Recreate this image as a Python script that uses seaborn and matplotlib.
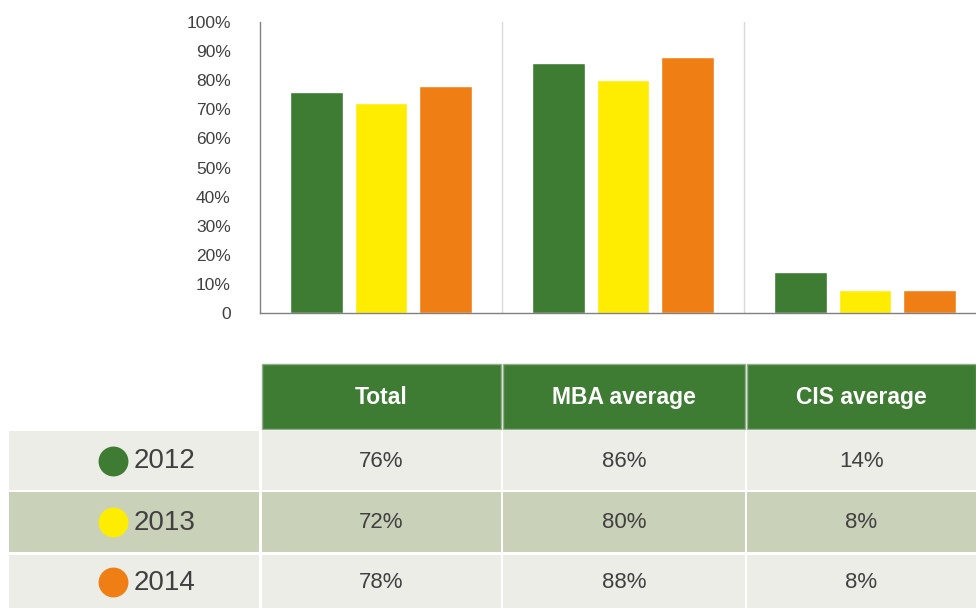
import matplotlib
matplotlib.use("Agg")
import matplotlib.pyplot as plt
from matplotlib.patches import Rectangle
import seaborn as sns
import pandas as pd

# Data
groups = ["Total", "MBA average", "CIS average"]
years = ["2012", "2013", "2014"]
values_2012 = [76, 86, 14]
values_2013 = [72, 80, 8]
values_2014 = [78, 88, 8]
y_ticks = [0, 10, 20, 30, 40, 50, 60, 70, 80, 90, 100]
y_tick_labels = ["0", "10%", "20%", "30%", "40%", "50%", "60%", "70%", "80%", "90%", "100%"]

colors = {"2012": "#3E7B33", "2013": "#FFED00", "2014": "#EF7F14"}
text_col = "#404040"
header_green = "#3E7B33"
row_light = "#EDEDE8"
row_mid = "#C9D1B9"

series = {"2012": values_2012, "2013": values_2013, "2014": values_2014}
df = pd.DataFrame(
    [(g, y, series[y][i]) for y in years for i, g in enumerate(groups)],
    columns=["Group", "Year", "Value"],
)

sns.set_theme(style="white")
plt.rcParams["font.family"] = ["Liberation Sans", "DejaVu Sans"]

W, H = 976, 608
fig = plt.figure(figsize=(W / 100, H / 100), dpi=100)

# Bar chart area (pixel box: x 260..986, y 22..313); the right edge runs past the figure
ax = fig.add_axes([260 / W, (H - 313) / H, (986 - 260) / W, (313 - 22) / H])
sns.barplot(
    data=df, x="Group", y="Value", hue="Year", order=groups, hue_order=years,
    palette=colors, width=0.8, gap=0.19, saturation=1, legend=False, ax=ax,
)
ax.set_xlim(-0.5, 2.5)
ax.set_ylim(0, 100)
ax.set_yticks(y_ticks)
ax.set_yticklabels(y_tick_labels, color=text_col, fontsize=12.5)
ax.tick_params(axis="y", length=0, pad=21)
ax.set_xticks([])
ax.set_xlabel("")
ax.set_ylabel("")
for s in ["top", "right"]:
    ax.spines[s].set_visible(False)
for s in ["left", "bottom"]:
    ax.spines[s].set_color("#808080")
    ax.spines[s].set_linewidth(1.0)
for xv in [0.5, 1.5]:
    ax.axvline(xv, color="#D9D9D9", lw=1.0, zorder=0)

# Data table drawn in pixel coordinates
tab = fig.add_axes([0, 0, 1, 1])
tab.set_xlim(0, W)
tab.set_ylim(H, 0)
tab.axis("off")
tab.patch.set_visible(False)

col_x = [(262, 501), (503, 745), (747, 976)]
header_y = (364, 429)
row_y = [(431, 490), (492, 552), (555, 608)]
row_fill = [row_light, row_mid, row_light]

for (x0, x1), name in zip(col_x, groups):
    tab.add_patch(Rectangle((x0, header_y[0]), x1 - x0, header_y[1] - header_y[0],
                            facecolor=header_green, edgecolor="#93AE8C", lw=1.0))
    tab.text((x0 + x1) / 2, (header_y[0] + header_y[1]) / 2 + 1, name, color="white",
             fontsize=16.5, fontweight="bold", ha="center", va="center")

for r, y in enumerate(years):
    y0, y1 = row_y[r]
    yc = (y0 + y1) / 2
    tab.add_patch(Rectangle((9, y0), 259 - 9, y1 - y0, facecolor=row_fill[r], lw=0))
    for c, (x0, x1) in enumerate(col_x):
        tab.add_patch(Rectangle((x0, y0), x1 - x0, y1 - y0, facecolor=row_fill[r], lw=0))
        tab.text((x0 + x1) / 2, yc + 1, f"{series[y][c]}%", color=text_col,
                 fontsize=16, ha="center", va="center")
    tab.scatter([113], [yc], s=29 ** 2 * 0.55, color=colors[y], marker="o", lw=0)
    tab.text(134, yc + 1, y, color=text_col, fontsize=20, ha="left", va="center")

fig.savefig("out.png", dpi=100)
